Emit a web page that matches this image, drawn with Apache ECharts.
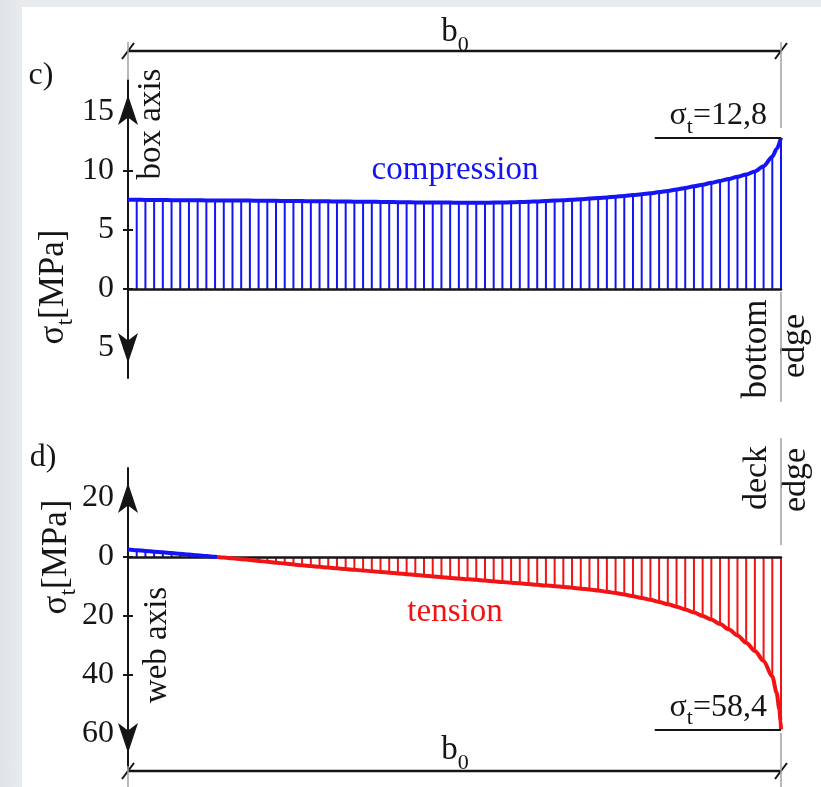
<!DOCTYPE html>
<html>
<head>
<meta charset="utf-8">
<script src="https://cdn.jsdelivr.net/npm/echarts@6/dist/echarts.min.js"></script>
<style>
  html, body { margin: 0; padding: 0; }
  body { width: 821px; height: 787px; position: relative; overflow: hidden;
         background: linear-gradient(90deg, #dfe2e6 0px, #e9ecef 22px); }
  #sheet { position: absolute; left: 22px; top: 7px; right: 0; bottom: 0; background: #ffffff; }
  #chart { position: absolute; left: 0; top: 0; width: 821px; height: 787px; }
</style>
</head>
<body>
<div id="sheet"></div>
<div id="chart"></div>
<script>
// Transverse stress sigma_t [MPa] across the flange width b0,
// sampled at 76 stations (75 equal strips). Compression positive, tension negative.
const stripCount = 75;

// c) bottom flange, from box axis (station 0) to bottom edge (station 75)
const bottomFlangeStress = [
  7.55, 7.55, 7.54, 7.54, 7.53, 7.52, 7.52, 7.51, 7.51, 7.50,
  7.50, 7.49, 7.49, 7.48, 7.48, 7.47, 7.46, 7.46, 7.45, 7.45,
  7.44, 7.43, 7.42, 7.42, 7.41, 7.40, 7.39, 7.38, 7.38, 7.37,
  7.36, 7.35, 7.34, 7.33, 7.33, 7.32, 7.31, 7.31, 7.30, 7.30,
  7.30, 7.30, 7.31, 7.32, 7.34, 7.36, 7.38, 7.41, 7.44, 7.48,
  7.52, 7.56, 7.60, 7.65, 7.70, 7.75, 7.81, 7.88, 7.95, 8.02,
  8.10, 8.20, 8.30, 8.42, 8.55, 8.69, 8.83, 8.99, 9.15, 9.32,
  9.50, 9.70, 9.95, 10.40, 11.20, 12.80
];
// extra curve points inside the last strip (station, stress)
const bottomFlangeEdge = [[74.5, 11.85]];

// d) deck, from web axis (station 0) to deck edge (station 75)
const deckStress = [
  2.6, 2.35, 2.1, 1.85, 1.6, 1.35, 1.1, 0.85, 0.6, 0.35,
  0.1, -0.15, -0.42, -0.7, -1.0, -1.3, -1.6, -1.9, -2.2, -2.5,
  -2.8, -3.05, -3.3, -3.55, -3.8, -4.05, -4.3, -4.55, -4.8, -5.05,
  -5.3, -5.55, -5.8, -6.05, -6.3, -6.55, -6.8, -7.05, -7.3, -7.5,
  -7.7, -7.95, -8.2, -8.45, -8.7, -8.9, -9.15, -9.4, -9.65, -9.85,
  -10.1, -10.4, -10.7, -11.0, -11.35, -11.75, -12.2, -12.7, -13.25, -13.85,
  -14.5, -15.2, -15.95, -16.8, -17.75, -18.8, -19.95, -21.2, -22.7, -24.5,
  -26.6, -29.0, -31.8, -35.2, -40.5, -58.4
];
const deckEdge = [[74.5, -46.0], [74.8, -51.5], [74.95, -55.5]];

// stress axis ticks
const ticksC = [-5, 0, 5, 10, 15];
const ticksD = [-60, -40, -20, 0, 20];

const BLUE = '#1414f5';
const RED = '#f21414';
const INK = '#151515';
const GREY = '#a0a0a0';
const FONT = '"Liberation Serif", "DejaVu Serif", serif';

const toPairs = arr => arr.map((v, i) => [i, v]);
const curveOf = (arr, extra) => toPairs(arr).concat(extra).sort((a, b) => a[0] - b[0]);
const decimalComma = v => String(Math.abs(v)).replace('.', ',');

// where the stress changes sign, as a fraction of b0 (for the curve colour)
function signChangeFraction(arr) {
  for (let i = 0; i < arr.length - 1; i++) {
    if (arr[i] > 0 && arr[i + 1] <= 0) {
      return (i + arr[i] / (arr[i] - arr[i + 1])) / (arr.length - 1);
    }
  }
  return 0;
}

function hatchItem(params, api) {
  const s = api.value(0);
  const v = api.value(1);
  const p0 = api.coord([s, 0]);
  const p1 = api.coord([s, v]);
  return {
    type: 'line',
    shape: { x1: p0[0], y1: p0[1], x2: p1[0], y2: p1[1] },
    style: { stroke: v >= 0 ? BLUE : RED, lineWidth: 2 }
  };
}

function stressAxes(gridIndex, min, max, ticks) {
  const tickStyle = { color: INK, width: 2 };
  return [{
    type: 'value', gridIndex, min, max, position: 'left', z: 3,
    axisLine: {
      show: true, onZero: false,
      symbol: ['arrow', 'arrow'], symbolSize: [15, 30], symbolOffset: [15, -15],
      lineStyle: { color: INK, width: 2 }
    },
    axisTick: { show: true, customValues: ticks, length: 5, lineStyle: tickStyle },
    axisLabel: {
      customValues: ticks, formatter: v => String(Math.abs(v)),
      margin: 14, fontFamily: FONT, fontSize: 32, color: INK
    },
    splitLine: { show: false }
  }, {
    type: 'value', gridIndex, min, max, position: 'left', z: 3,
    axisLine: { show: false },
    axisTick: { show: true, inside: true, customValues: ticks, length: 5, lineStyle: tickStyle },
    axisLabel: { show: false },
    splitLine: { show: false }
  }];
}

function widthAxis(gridIndex, yIdx) {
  return {
    type: 'value', gridIndex, min: 0, max: stripCount, z: 3,
    axisLine: { onZero: true, onZeroAxisIndex: yIdx, lineStyle: { color: INK, width: 2.5 } },
    axisTick: { show: false }, axisLabel: { show: false }, splitLine: { show: false }
  };
}

const valueRich = {
  m: { fontFamily: FONT, fontSize: 32, color: INK, verticalAlign: 'bottom', padding: [0, 0, 6, 0] },
  s: { fontFamily: FONT, fontSize: 22, color: INK, verticalAlign: 'bottom' }
};

function peakMarker(value) {
  return {
    silent: true, symbol: 'none',
    lineStyle: { color: INK, width: 2, type: 'solid' },
    label: {
      show: true, position: 'insideEndTop', distance: [14, 0],
      formatter: () => '{m|σ}{s|t}{m|=' + decimalComma(value) + '}',
      rich: valueRich
    },
    data: [[{ coord: [60.5, value] }, { coord: [stripCount, value] }]]
  };
}

// text helpers for the drawing annotations
const textRich = (size) => ({
  m: { fontFamily: FONT, fontSize: size, fill: INK, color: INK, verticalAlign: 'bottom', padding: [0, 0, 7, 0] },
  s: { fontFamily: FONT, fontSize: Math.round(size * 0.68), fill: INK, color: INK, verticalAlign: 'bottom' }
});
function label(text, x, y, opts) {
  opts = opts || {};
  return {
    type: 'text', x, y, rotation: opts.rotate ? Math.PI / 2 : 0, z: 10,
    style: {
      text, fontFamily: FONT, fontSize: opts.size || 33, fill: opts.color || INK,
      align: 'center', verticalAlign: 'middle', rich: opts.rich
    }
  };
}
function seg(x1, y1, x2, y2, stroke, w) {
  return { type: 'line', z: 10, shape: { x1, y1, x2, y2 }, style: { stroke, lineWidth: w } };
}

const chart = echarts.init(document.getElementById('chart'), null, { renderer: 'canvas' });

const peakC = bottomFlangeStress[bottomFlangeStress.length - 1];
const peakD = deckStress[deckStress.length - 1];
const flip = signChangeFraction(deckStress);
const deckCurveColor = {
  type: 'linear', x: 0, y: 0, x2: 1, y2: 0,
  colorStops: [
    { offset: 0, color: BLUE }, { offset: flip, color: BLUE },
    { offset: flip, color: RED }, { offset: 1, color: RED }
  ]
};

chart.setOption({
  animation: false,
  backgroundColor: 'transparent',
  grid: [
    { left: 128, top: 80, width: 653, height: 298 },
    { left: 128, top: 468, width: 653, height: 300 }
  ],
  xAxis: [widthAxis(0, 0), widthAxis(1, 2)],
  yAxis: stressAxes(0, -7.55, 17.7, ticksC).concat(stressAxes(1, -71.5, 30.2, ticksD)),
  series: [
    {
      type: 'custom', xAxisIndex: 0, yAxisIndex: 0, z: 1,
      renderItem: hatchItem, encode: { x: 0, y: 1 },
      data: toPairs(bottomFlangeStress)
    },
    {
      type: 'line', xAxisIndex: 0, yAxisIndex: 0, z: 4,
      data: curveOf(bottomFlangeStress, bottomFlangeEdge),
      showSymbol: false, smooth: 0.3, smoothMonotone: 'x',
      lineStyle: { color: BLUE, width: 4 },
      markLine: peakMarker(peakC)
    },
    {
      type: 'custom', xAxisIndex: 1, yAxisIndex: 2, z: 1,
      renderItem: hatchItem, encode: { x: 0, y: 1 },
      data: toPairs(deckStress)
    },
    {
      type: 'line', xAxisIndex: 1, yAxisIndex: 2, z: 4,
      data: curveOf(deckStress, deckEdge),
      showSymbol: false, smooth: 0.3, smoothMonotone: 'x',
      itemStyle: { color: RED },
      lineStyle: { width: 4, color: deckCurveColor },
      markLine: peakMarker(peakD)
    }
  ],
  graphic: [
    // b0 dimension, top
    seg(128, 51, 781, 51, INK, 2.5),
    seg(122, 59, 134, 43, INK, 2),
    seg(775, 59, 787, 43, INK, 2),
    seg(128, 42, 128, 80, GREY, 1.5),
    seg(781, 42, 781, 128, GREY, 1.5),
    label('{m|b}{s|0}', 455, 36, { rich: textRich(33) }),
    // panel c
    label('c)', 41, 76, { size: 32 }),
    label('{m|σ}{s|t}{m|[MPa]}', 57, 287, { rotate: true, rich: textRich(35) }),
    label('box axis', 151, 124, { rotate: true }),
    label('compression', 455, 170, { color: BLUE }),
    label('bottom', 757, 349, { rotate: true, size: 35 }),
    label('edge', 795, 346, { rotate: true, size: 34 }),
    seg(781, 292, 781, 402, GREY, 1.5),
    // panel d
    label('d)', 43, 458, { size: 32 }),
    label('{m|σ}{s|t}{m|[MPa]}', 60, 557, { rotate: true, rich: textRich(35) }),
    label('web axis', 157, 645, { rotate: true }),
    label('deck', 757, 478, { rotate: true, size: 34 }),
    label('edge', 796, 480, { rotate: true, size: 34 }),
    seg(781, 438, 781, 545, GREY, 1.5),
    label('tension', 455, 612, { color: RED }),
    // b0 dimension, bottom
    seg(128, 771, 781, 771, INK, 2.5),
    seg(122, 779, 134, 763, INK, 2),
    seg(775, 779, 787, 763, INK, 2),
    seg(128, 766, 128, 787, GREY, 1.5),
    seg(781, 733, 781, 787, GREY, 1.5),
    label('{m|b}{s|0}', 455, 754, { rich: textRich(33) })
  ]
});
</script>
</body>
</html>
